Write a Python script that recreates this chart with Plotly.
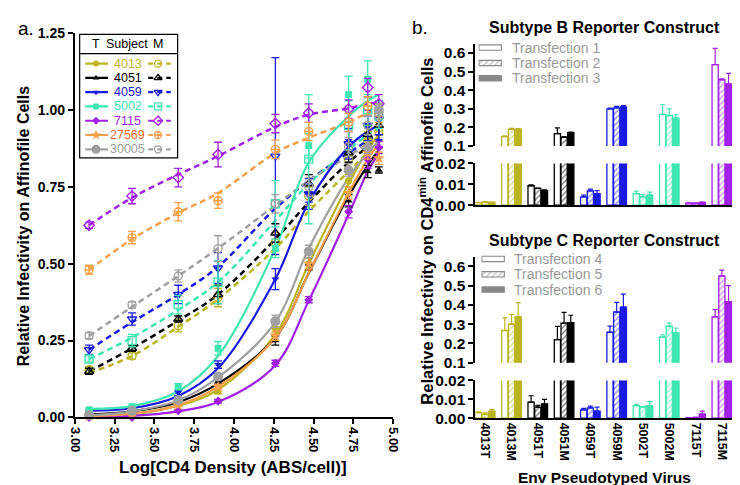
import plotly.graph_objects as go

# ------------------------------------------------------------------ data (panel a)
SUBJECTS = ["4013", "4051", "4059", "5002", "7115", "27569", "30005"]
LOG_CD4 = [3.09, 3.36, 3.65, 3.90, 4.26, 4.47, 4.72, 4.84, 4.91]

T_4013 = [0.004, 0.010, 0.045, 0.085, 0.29, 0.50, 0.77, 0.90, 0.95]
T_4051 = [0.008, 0.018, 0.050, 0.117, 0.25, 0.50, 0.705, 0.80, 0.805]
T_4059 = [0.018, 0.028, 0.080, 0.172, 0.45, 0.73, 0.90, 0.95, 0.90]
T_5002 = [0.025, 0.035, 0.100, 0.225, 0.55, 0.884, 1.05, 1.10, 1.00]
T_7115 = [0.000, 0.000, 0.022, 0.053, 0.176, 0.383, 0.669, 0.84, 0.878]
T_27569 = [0.004, 0.010, 0.040, 0.100, 0.266, 0.50, 0.73, 0.86, 0.843]
T_30005 = [0.007, 0.022, 0.057, 0.133, 0.313, 0.54, 0.805, 0.878, 1.00]

T_4013_ERR = [0.003, 0.004, 0.005, 0.008, 0.015, 0.02, 0.02, 0.02, 0.02]
T_4051_ERR = [0.003, 0.004, 0.005, 0.008, 0.015, 0.02, 0.02, 0.02, 0.01]
T_4059_ERR = [0.003, 0.004, 0.008, 0.012, 0.034, 0.03, 0.03, 0.03, 0.02]
T_5002_ERR = [0.003, 0.004, 0.010, 0.022, 0.030, 0.04, 0.06, 0.06, 0.03]
T_7115_ERR = [0.002, 0.003, 0.004, 0.006, 0.010, 0.01, 0.02, 0.03, 0.02]
T_27569_ERR = [0.003, 0.004, 0.005, 0.008, 0.015, 0.02, 0.02, 0.02, 0.02]
T_30005_ERR = [0.003, 0.004, 0.006, 0.010, 0.020, 0.02, 0.02, 0.02, 0.02]

T_4013_FIT = [0.004, 0.010, 0.038, 0.090, 0.270, 0.50, 0.76, 0.87, 0.92]
T_4051_FIT = [0.010, 0.020, 0.050, 0.110, 0.260, 0.47, 0.72, 0.82, 0.87]
T_4059_FIT = [0.022, 0.030, 0.070, 0.160, 0.450, 0.70, 0.88, 0.93, 0.95]
T_5002_FIT = [0.028, 0.037, 0.085, 0.200, 0.550, 0.83, 0.98, 1.03, 1.05]
T_7115_FIT = [0.000, 0.005, 0.020, 0.050, 0.170, 0.38, 0.66, 0.80, 0.86]
T_27569_FIT = [0.004, 0.012, 0.040, 0.100, 0.260, 0.47, 0.73, 0.84, 0.89]
T_30005_FIT = [0.007, 0.020, 0.055, 0.130, 0.310, 0.55, 0.78, 0.86, 0.90]

M_4013 = [0.155, 0.200, 0.298, 0.39, 0.57, 0.72, 0.84, 0.90, 0.93]
M_4051 = [0.150, 0.225, 0.320, 0.40, 0.60, 0.76, 0.86, 0.92, 0.95]
M_4059 = [0.220, 0.320, 0.400, 0.486, 0.85, 0.727, 0.89, 0.95, 0.97]
M_5002 = [0.190, 0.250, 0.367, 0.44, 0.695, 0.84, 0.95, 1.00, 0.98]
M_7115 = [0.625, 0.720, 0.780, 0.855, 0.956, 0.99, 1.003, 1.073, 1.02]
M_27569 = [0.480, 0.585, 0.669, 0.705, 0.872, 0.93, 0.96, 1.013, 0.99]
M_30005 = [0.266, 0.366, 0.460, 0.549, 0.695, 0.75, 0.88, 0.95, 0.98]

M_4013_ERR = [0.010, 0.010, 0.020, 0.030, 0.03, 0.03, 0.03, 0.03, 0.03]
M_4051_ERR = [0.010, 0.010, 0.010, 0.030, 0.03, 0.03, 0.03, 0.03, 0.03]
M_4059_ERR = [0.015, 0.020, 0.030, 0.050, 0.32, 0.05, 0.05, 0.05, 0.05]
M_5002_ERR = [0.010, 0.020, 0.030, 0.070, 0.075, 0.21, 0.08, 0.05, 0.04]
M_7115_ERR = [0.010, 0.025, 0.030, 0.040, 0.03, 0.03, 0.03, 0.03, 0.03]
M_27569_ERR = [0.015, 0.020, 0.030, 0.025, 0.03, 0.03, 0.03, 0.03, 0.03]
M_30005_ERR = [0.010, 0.010, 0.020, 0.042, 0.03, 0.03, 0.03, 0.03, 0.03]

M_4013_FIT = [0.145, 0.200, 0.295, 0.385, 0.55, 0.67, 0.80, 0.86, 0.89]
M_4051_FIT = [0.150, 0.225, 0.315, 0.400, 0.58, 0.70, 0.83, 0.88, 0.91]
M_4059_FIT = [0.220, 0.310, 0.400, 0.490, 0.68, 0.77, 0.86, 0.90, 0.92]
M_5002_FIT = [0.190, 0.260, 0.350, 0.440, 0.64, 0.76, 0.87, 0.92, 0.94]
M_7115_FIT = [0.625, 0.715, 0.790, 0.850, 0.945, 0.985, 1.005, 1.02, 1.025]
M_27569_FIT = [0.480, 0.580, 0.665, 0.730, 0.860, 0.91, 0.96, 0.99, 1.00]
M_30005_FIT = [0.265, 0.360, 0.460, 0.550, 0.690, 0.77, 0.85, 0.89, 0.91]

# ------------------------------------------------------------------ data (panel b)
CATEGORIES = ["4013T", "4013M", "4051T", "4051M", "4059T",
              "4059M", "5002T", "5002M", "7115T", "7115M"]
BAR_SUBJECTS = ["4013", "4051", "4059", "5002", "7115"]

B_TF1 = [0.0012, 0.150, 0.0093, 0.167, 0.0040, 0.300, 0.0055, 0.270, 0.0010, 0.537]
B_TF2 = [0.0015, 0.190, 0.0080, 0.147, 0.0068, 0.305, 0.0040, 0.264, 0.0010, 0.456]
B_TF3 = [0.0013, 0.190, 0.0070, 0.172, 0.0055, 0.310, 0.0048, 0.250, 0.0013, 0.433]
B_TF1_ERR = [0.0002, 0.005, 0.0004, 0.030, 0.0008, 0.004, 0.0012, 0.053, 0.0001, 0.088]
B_TF2_ERR = [0.0002, 0.005, 0.0002, 0.004, 0.0009, 0.008, 0.0010, 0.035, 0.0001, 0.005]
B_TF3_ERR = [0.0002, 0.004, 0.0003, 0.003, 0.0015, 0.007, 0.0014, 0.018, 0.0002, 0.057]

C_TF4 = [0.0029, 0.267, 0.0085, 0.220, 0.0044, 0.258, 0.0066, 0.233, 0.0002, 0.338]
C_TF5 = [0.0020, 0.300, 0.0058, 0.305, 0.0054, 0.363, 0.0058, 0.290, 0.0003, 0.550]
C_TF6 = [0.0037, 0.338, 0.0075, 0.308, 0.0037, 0.388, 0.0066, 0.255, 0.0022, 0.417]
C_TF4_ERR = [0.0005, 0.065, 0.0034, 0.068, 0.0008, 0.032, 0.0007, 0.012, 0.0001, 0.037]
C_TF5_ERR = [0.0008, 0.050, 0.0010, 0.056, 0.0010, 0.050, 0.0004, 0.015, 0.0003, 0.030]
C_TF6_ERR = [0.0010, 0.073, 0.0025, 0.038, 0.0022, 0.068, 0.0022, 0.025, 0.0015, 0.083]

B_LABELS = ["Transfection 1", "Transfection 2", "Transfection 3"]
C_LABELS = ["Transfection 4", "Transfection 5", "Transfection 6"]

# ------------------------------------------------------------------ styles
OLIVE, BLACK, BLUE, TEAL = "#BAB51E", "#000000", "#1A1AE6", "#40E6B0"
PURPLE, ORANGE, GRAY = "#A020E8", "#F7A04B", "#A0A0A0"
COLORS = {"4013": OLIVE, "4051": BLACK, "4059": BLUE, "5002": TEAL,
          "7115": PURPLE, "27569": ORANGE, "30005": GRAY}
TEXT_COLORS = dict(COLORS, **{"27569": "#F0682A"})
T_SYMBOLS = {"4013": "circle", "4051": "triangle-up", "4059": "triangle-down",
             "5002": "square", "7115": "diamond", "27569": "star", "30005": "circle"}
M_SYMBOLS = {"4013": "circle-open", "4051": "triangle-up-open",
             "4059": "triangle-down-open", "5002": "square-open",
             "7115": "diamond-open", "27569": "circle-cross-open",
             "30005": "circle-open"}
T_SIZES = {s: 7 for s in SUBJECTS}
T_SIZES["30005"] = 10
T_SIZES["27569"] = 9

T_DATA = {"4013": (T_4013, T_4013_ERR, T_4013_FIT), "4051": (T_4051, T_4051_ERR, T_4051_FIT),
          "4059": (T_4059, T_4059_ERR, T_4059_FIT), "5002": (T_5002, T_5002_ERR, T_5002_FIT),
          "7115": (T_7115, T_7115_ERR, T_7115_FIT), "27569": (T_27569, T_27569_ERR, T_27569_FIT),
          "30005": (T_30005, T_30005_ERR, T_30005_FIT)}
M_DATA = {"4013": (M_4013, M_4013_ERR, M_4013_FIT), "4051": (M_4051, M_4051_ERR, M_4051_FIT),
          "4059": (M_4059, M_4059_ERR, M_4059_FIT), "5002": (M_5002, M_5002_ERR, M_5002_FIT),
          "7115": (M_7115, M_7115_ERR, M_7115_FIT), "27569": (M_27569, M_27569_ERR, M_27569_FIT),
          "30005": (M_30005, M_30005_ERR, M_30005_FIT)}

FONT = "Arial, Liberation Sans, sans-serif"
W, H = 740, 485


def fx(p):
    return p / W


def fy(p):
    return 1 - p / H


fig = go.Figure()

# ------------------------------------------------------------------ panel a
DASH = "6px,4px"
for s in SUBJECTS:
    c = COLORS[s]
    m, me, mf = M_DATA[s]
    fig.add_trace(go.Scatter(x=LOG_CD4, y=mf, mode="lines", line_shape="spline",
                             line=dict(color=c, width=2.5, dash=DASH),
                             hoverinfo="skip", showlegend=False))
for s in SUBJECTS:
    c = COLORS[s]
    t, te, tf = T_DATA[s]
    fig.add_trace(go.Scatter(x=LOG_CD4, y=tf, mode="lines", line_shape="spline",
                             line=dict(color=c, width=2.2),
                             hoverinfo="skip", showlegend=False))
for s in SUBJECTS:
    c = COLORS[s]
    m, me, mf = M_DATA[s]
    t, te, tf = T_DATA[s]
    fig.add_trace(go.Scatter(x=LOG_CD4, y=m, mode="markers", cliponaxis=False,
                             marker=dict(symbol=M_SYMBOLS[s], size=8, color=c,
                                         line=dict(color=c, width=1.4)),
                             error_y=dict(type="data", array=me, color=c,
                                          thickness=1.3, width=4),
                             showlegend=False))
    fig.add_trace(go.Scatter(x=LOG_CD4, y=t, mode="markers", cliponaxis=False,
                             marker=dict(symbol=T_SYMBOLS[s], size=T_SIZES[s], color=c,
                                         line=dict(color=c, width=0)),
                             error_y=dict(type="data", array=te, color=c,
                                          thickness=1.3, width=4),
                             showlegend=False))

# legend for panel a (overlay axes x4 / y6, units = pixels inside box)
LEG_ROWS = [30.3, 45.1, 59.9, 74.7, 89.5, 104.3, 119.1]
for s, r in zip(SUBJECTS, LEG_ROWS):
    c = COLORS[s]
    fig.add_trace(go.Scatter(x=[5.7, 29], y=[r, r], mode="lines",
                             line=dict(color=c, width=2.2), xaxis="x4", yaxis="y6",
                             hoverinfo="skip", showlegend=False))
    fig.add_trace(go.Scatter(x=[16.7], y=[r], mode="markers", xaxis="x4", yaxis="y6",
                             marker=dict(symbol=T_SYMBOLS[s], size=T_SIZES[s] - 1, color=c),
                             hoverinfo="skip", showlegend=False))
    fig.add_trace(go.Scatter(x=[70, 93], y=[r, r], mode="lines",
                             line=dict(color=c, width=2.2, dash="5px,4px"),
                             xaxis="x4", yaxis="y6", hoverinfo="skip", showlegend=False))
    fig.add_trace(go.Scatter(x=[80], y=[r], mode="markers", xaxis="x4", yaxis="y6",
                             marker=dict(symbol=M_SYMBOLS[s], size=7, color=c,
                                         line=dict(color=c, width=1.3)),
                             hoverinfo="skip", showlegend=False))
    fig.add_annotation(x=49, y=r, xref="x4", yref="y6", text=s, showarrow=False,
                       xanchor="center", yanchor="middle",
                       font=dict(family=FONT, size=12.5, color=TEXT_COLORS[s]))
for txt, xx in (("T", 16.7), ("Subject", 48), ("M", 80)):
    fig.add_annotation(x=xx, y=10, xref="x4", yref="y6", text=txt, showarrow=False,
                       xanchor="center", yanchor="middle",
                       font=dict(family=FONT, size=12.5, color="black"))

# ------------------------------------------------------------------ panel b
BAR_W = 0.235
OFFSETS = [-0.3725, -0.1175, 0.1375]
STYLE = ["open", "hatch", "solid"]


def add_bars(values_list, errs_list, xa, ya_low, ya_up):
    for k, (vals, errs) in enumerate(zip(values_list, errs_list)):
        for j, subj in enumerate(BAR_SUBJECTS):
            c = COLORS[subj]
            idx = [2 * j, 2 * j + 1]
            yv = [vals[i] for i in idx]
            ev = [errs[i] for i in idx]
            if STYLE[k] == "open":
                mk = dict(color="white", line=dict(color=c, width=1.3))
            elif STYLE[k] == "hatch":
                mk = dict(color="white", line=dict(color=c, width=1.3),
                          pattern=dict(shape="/", fgcolor=c, bgcolor="white",
                                       size=4, solidity=0.35))
            else:
                mk = dict(color=c, line=dict(color=c, width=1.3))
            for ya in (ya_low, ya_up):
                fig.add_trace(go.Bar(x=idx, y=yv, offset=OFFSETS[k], width=BAR_W,
                                     marker=mk, xaxis=xa, yaxis=ya,
                                     error_y=dict(type="data", symmetric=False, array=ev,
                                                  arrayminus=[0, 0], color=c,
                                                  thickness=1.2, width=2.5),
                                     hoverinfo="skip", showlegend=False))


add_bars([B_TF1, B_TF2, B_TF3], [B_TF1_ERR, B_TF2_ERR, B_TF3_ERR], "x2", "y2", "y3")
add_bars([C_TF4, C_TF5, C_TF6], [C_TF4_ERR, C_TF5_ERR, C_TF6_ERR], "x3", "y4", "y5")

# legends for bar panels
SW_ROWS = [5.7, 21.7, 37.5]


def add_bar_legend(xa, ya, labels, text_x, top_px):
    for k, r in enumerate(SW_ROWS):
        if STYLE[k] == "open":
            mk = dict(color="white", line=dict(color="#888888", width=1.2))
        elif STYLE[k] == "hatch":
            mk = dict(color="white", line=dict(color="#888888", width=1.2),
                      pattern=dict(shape="/", fgcolor="#888888", bgcolor="white",
                                   size=4, solidity=0.35))
        else:
            mk = dict(color="#888888", line=dict(color="#888888", width=1.2))
        fig.add_trace(go.Bar(x=[23], y=[r], base=[0.5], orientation="h", width=5.5,
                             marker=mk, xaxis=xa, yaxis=ya, hoverinfo="skip",
                             showlegend=False))
        fig.add_annotation(x=fx(text_x), y=fy(top_px + r), xref="paper", yref="paper",
                           xanchor="left", yanchor="middle", text=labels[k], showarrow=False,
                           font=dict(family=FONT, size=14, color="#9A9A9A"))


add_bar_legend("x5", "y7", B_LABELS, 505, 26)
add_bar_legend("x6", "y8", C_LABELS, 507, 245)

# ------------------------------------------------------------------ layout
AX = dict(showline=True, linecolor="black", linewidth=2, ticks="outside",
          ticklen=5, tickwidth=2, tickcolor="black", showgrid=False, zeroline=False,
          tickfont=dict(family=FONT, size=13, color="black", weight="bold"))
RTICK = dict(family=FONT, size=15.5, color="black", weight="bold")
HIDDEN = dict(visible=False, showgrid=False, zeroline=False, fixedrange=True)

layout = dict(
    width=W, height=H, margin=dict(l=0, r=0, t=0, b=0),
    paper_bgcolor="white", plot_bgcolor="rgba(0,0,0,0)",
    barmode="overlay", showlegend=False, font=dict(family=FONT),
    xaxis=dict(AX, domain=[fx(61), fx(386)], range=[3.0, 5.0], tickvals=[3.0 + 0.25 * i for i in range(9)],
               tickformat=".2f", tickangle=90, anchor="y"),
    yaxis=dict(AX, domain=[fy(415), fy(16.7)], range=[0, 1.25],
               tickvals=[0, 0.25, 0.5, 0.75, 1.0, 1.25], tickformat=".2f", anchor="x",
               tickfont=dict(family=FONT, size=14, color="black", weight="bold")),
    xaxis2=dict(AX, domain=[fx(470), fx(740)], range=[-0.37, 9.69], anchor="y2",
                tickvals=list(range(10)), ticks="", showticklabels=False),
    yaxis2=dict(AX, domain=[fy(195), fy(151.7)], range=[0, 0.02], anchor="x2",
                tickvals=[0, 0.01, 0.02], tickformat=".2f", tickfont=RTICK),
    yaxis3=dict(AX, domain=[fy(133.7), fy(27.6)], range=[0.1, 0.65], anchor="x2",
                tickvals=[0.1, 0.2, 0.3, 0.4, 0.5, 0.6], tickformat=".1f", tickfont=RTICK),
    xaxis3=dict(AX, domain=[fx(470), fx(740)], range=[-0.37, 9.69], anchor="y4",
                tickvals=list(range(10)), ticktext=CATEGORIES, ticks="", tickangle=90,
                tickfont=dict(family=FONT, size=12.5, color="black", weight="bold")),
    yaxis4=dict(AX, domain=[fy(415.7), fy(376.7)], range=[0, 0.02], anchor="x3",
                tickvals=[0, 0.01, 0.02], tickformat=".2f", tickfont=RTICK),
    yaxis5=dict(AX, domain=[fy(358.3), fy(248.3)], range=[0.1, 0.65], anchor="x3",
                tickvals=[0.1, 0.2, 0.3, 0.4, 0.5, 0.6], tickformat=".1f", tickfont=RTICK),
    xaxis4=dict(HIDDEN, domain=[fx(66), fx(166)], range=[0, 100], anchor="y6"),
    yaxis6=dict(HIDDEN, domain=[fy(146), fy(18)], range=[128, 0], anchor="x4"),
    xaxis5=dict(HIDDEN, domain=[fx(473), fx(497)], range=[0, 24], anchor="y7"),
    yaxis7=dict(HIDDEN, domain=[fy(69), fy(26)], range=[43, 0], anchor="x5"),
    xaxis6=dict(HIDDEN, domain=[fx(476), fx(500)], range=[0, 24], anchor="y8"),
    yaxis8=dict(HIDDEN, domain=[fy(288), fy(245)], range=[43, 0], anchor="x6"),
)
fig.update_layout(**layout)

# legend box for panel a
fig.add_shape(type="rect", xref="paper", yref="paper", x0=fx(66), x1=fx(166),
              y0=fy(146), y1=fy(18), line=dict(color="black", width=1.2),
              fillcolor="white", layer="below")
fig.add_shape(type="line", xref="paper", yref="paper", x0=fx(66), x1=fx(166),
              y0=fy(38), y1=fy(38), line=dict(color="black", width=1.2))

BOLD = dict(family=FONT, color="black", weight="bold")
ann = [
    dict(x=fx(1), y=fy(12), text="a.", xanchor="left", font=dict(family=FONT, size=19, color="black")),
    dict(x=fx(403), y=fy(11), text="b.", xanchor="left", font=dict(family=FONT, size=19, color="black")),
    dict(x=fx(9), y=fy(217), text="Relative Infectivity on Affinofile Cells", textangle=-90,
         font=dict(BOLD, size=16)),
    dict(x=fx(223), y=fy(467), text="Log[CD4 Density (ABS/cell)]", font=dict(BOLD, size=17)),
    dict(x=fx(602), y=fy(11), text="Subtype B Reporter Construct", font=dict(BOLD, size=16)),
    dict(x=fx(602), y=fy(232), text="Subtype C Reporter Construct", font=dict(BOLD, size=16)),
    dict(x=fx(420), y=fy(222), text="Relative Infectivity on CD4<sup>min</sup> Affinofile Cells",
         textangle=-90, font=dict(BOLD, size=16.5)),
    dict(x=fx(602), y=fy(477), text="Env Pseudotyped Virus", font=dict(BOLD, size=15.5)),
]
for a in ann:
    a.setdefault("xanchor", "center")
    fig.add_annotation(xref="paper", yref="paper", showarrow=False, yanchor="middle", **a)

fig.write_html("out.html")
